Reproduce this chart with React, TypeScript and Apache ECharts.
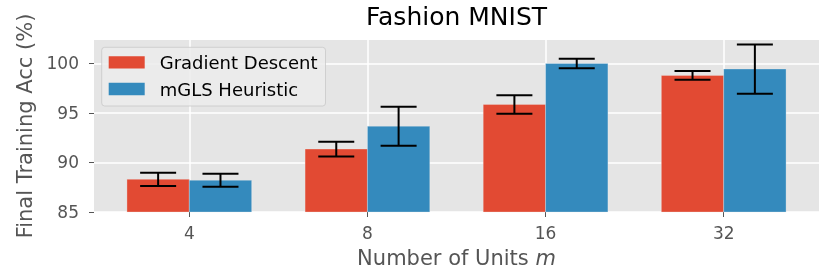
import React, { useEffect, useRef } from 'react';
import * as echarts from 'echarts';

const categories = ['4', '8', '16', '32'];
const seriesNames = ['Gradient Descent', 'mGLS Heuristic'];
const gradientDescent = [88.3, 91.35, 95.85, 98.78];
const gradientDescentErr = [0.67, 0.74, 0.93, 0.44];
const mgls = [88.2, 93.65, 99.98, 99.42];
const mglsErr = [0.66, 1.96, 0.48, 2.48];
const yTicks = [85, 90, 95, 100];

const FONT = 'DejaVu Sans';
const BAR_W = 0.35;
const Y_MIN = 85;

function makeRender(offset: number, color: string) {
  return (params: any, api: any) => {
    const x = api.value(0);
    const y = api.value(1);
    const e = api.value(2);
    const p0 = api.coord([x + offset, y]);
    const p1 = api.coord([x + offset + BAR_W, Y_MIN]);
    const cx = api.coord([x + offset + BAR_W / 2, y])[0];
    const top = api.coord([x, y + e])[1];
    const bot = api.coord([x, y - e])[1];
    const cap = 18;
    const ls = { stroke: '#000', lineWidth: 2 };
    return {
      type: 'group',
      children: [
        {
          type: 'rect',
          shape: { x: p0[0], y: p0[1], width: p1[0] - p0[0], height: p1[1] - p0[1] },
          style: { fill: color, stroke: 'rgba(238,238,238,0.6)', lineWidth: 0.5 },
        },
        { type: 'line', shape: { x1: cx, y1: top, x2: cx, y2: bot }, style: ls },
        { type: 'line', shape: { x1: cx - cap, y1: top, x2: cx + cap, y2: top }, style: ls },
        { type: 'line', shape: { x1: cx - cap, y1: bot, x2: cx + cap, y2: bot }, style: ls },
      ],
    };
  };
}

export default function App() {
  const ref = useRef<HTMLDivElement>(null);
  useEffect(() => {
    if (!ref.current) return;
    const chart = echarts.init(ref.current, undefined, { renderer: 'svg' });
    const idx = categories.map((_, i) => i);
    chart.setOption({
      animation: false,
      textStyle: { fontFamily: FONT },
      graphic: [
        {
          type: 'text',
          x: 456.5,
          y: 4,
          style: {
            text: 'Fashion MNIST',
            fontFamily: FONT,
            fontSize: 25,
            fill: '#000',
            textAlign: 'center',
            textVerticalAlign: 'top',
          },
        },
      ],
      legend: {
        left: 101.7,
        top: 47.3,
        orient: 'vertical',
        data: seriesNames,
        icon: 'rect',
        itemWidth: 36,
        itemHeight: 12.3,
        itemGap: 8.7,
        padding: [6, 8, 8, 7],
        backgroundColor: 'rgba(236,236,236,0.85)',
        borderColor: 'rgba(200,200,200,0.8)',
        borderWidth: 1,
        borderRadius: 3,
        textStyle: { fontFamily: FONT, fontSize: 18, color: '#000', padding: [0, 0, 0, 10] },
      },
      grid: {
        left: 94,
        right: 11,
        top: 40,
        bottom: 63,
        show: true,
        backgroundColor: '#E5E5E5',
        borderWidth: 0,
      },
      xAxis: {
        type: 'value',
        min: -0.535,
        max: 3.535,
        name: 'Number of Units {i|m}',
        nameLocation: 'middle',
        nameGap: 35,
        nameTextStyle: {
          fontFamily: FONT,
          fontSize: 21,
          color: '#555',
          rich: { i: { fontFamily: FONT, fontSize: 21, color: '#555', fontStyle: 'italic' } },
        },
        axisLine: { show: false, onZero: false },
        axisTick: { show: true, length: 5, customValues: idx, lineStyle: { color: '#555' } },
        axisLabel: {
          customValues: idx,
          formatter: (v: number) => categories[Math.round(v)] ?? '',
          fontFamily: FONT,
          fontSize: 17,
          color: '#555',
          margin: 12,
        },
        splitLine: { show: true, lineStyle: { color: '#fff', width: 1.5 } },
      },
      yAxis: {
        type: 'value',
        min: Y_MIN,
        max: 102.35,
        interval: 5,
        name: 'Final Training Acc (%)',
        nameLocation: 'middle',
        nameGap: 58,
        nameTextStyle: { fontFamily: FONT, fontSize: 21, color: '#555' },
        axisLine: { show: false, onZero: false },
        axisTick: { show: true, length: 5, customValues: yTicks, lineStyle: { color: '#555' } },
        axisLabel: { customValues: yTicks, fontFamily: FONT, fontSize: 17, color: '#555', margin: 15 },
        splitLine: { show: true, lineStyle: { color: '#fff', width: 1.5 } },
      },
      series: [
        {
          type: 'custom',
          name: seriesNames[0],
          itemStyle: { color: '#E24A33' },
          clip: false,
          renderItem: makeRender(-BAR_W, '#E24A33'),
          encode: { x: 0, y: 1 },
          data: idx.map((i) => [i, gradientDescent[i], gradientDescentErr[i]]),
          z: 2,
        },
        {
          type: 'custom',
          name: seriesNames[1],
          itemStyle: { color: '#348ABD' },
          clip: false,
          renderItem: makeRender(0, '#348ABD'),
          encode: { x: 0, y: 1 },
          data: idx.map((i) => [i, mgls[i], mglsErr[i]]),
          z: 2,
        },
      ],
    });
    return () => chart.dispose();
  }, []);
  return (
    <div
      ref={ref}
      style={{ position: 'fixed', left: 0, top: 0, width: 830, height: 275 }}
    />
  );
}
